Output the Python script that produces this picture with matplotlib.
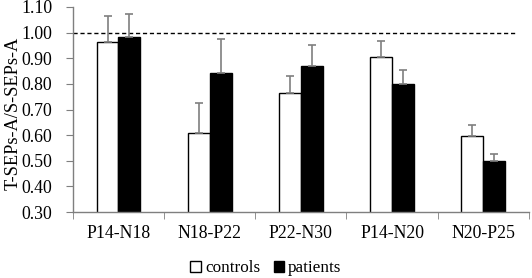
import matplotlib.pyplot as plt
import numpy as np

plt.rcParams['font.family'] = ['Liberation Serif', 'DejaVu Serif']

# values
components = ['P14-N18', 'N18-P22', 'P22-N30', 'P14-N20', 'N20-P25']
controls = [0.965, 0.61, 0.764, 0.904, 0.597]
controls_err = [0.10, 0.117, 0.065, 0.064, 0.043]
patients = [0.982, 0.842, 0.871, 0.80, 0.50]
patients_err = [0.091, 0.133, 0.079, 0.056, 0.027]

fig = plt.figure(figsize=(5.32, 2.78), dpi=100)
ax = fig.add_axes([0.137, 0.237, 0.857, 0.738])

x = np.arange(len(components))
w = 0.24
err_kw = dict(ecolor='#7f7f7f', elinewidth=1.2, capsize=3, capthick=1.2)
ax.bar(x - w / 2, controls, w, color='white', edgecolor='black', linewidth=1.0,
       yerr=[np.zeros(5), controls_err], error_kw=err_kw, label='controls', zorder=2)
ax.bar(x + w / 2, patients, w, color='black', edgecolor='black', linewidth=1.0,
       yerr=[np.zeros(5), patients_err], error_kw=err_kw, label='patients', zorder=2)

ax.axhline(1.0, xmin=0, xmax=0.97, color='black', linestyle=(0, (3, 2)), linewidth=1.0, zorder=1)

ax.set_xlim(-0.5, 4.5)
ax.set_ylim(0.30, 1.10)
ax.set_yticks(np.arange(0.30, 1.101, 0.10))
ax.set_yticklabels(['%.2f' % v for v in np.arange(0.30, 1.101, 0.10)], fontsize=12.8)
ax.set_xticks(x)
ax.set_xticklabels(components, fontsize=12.8)
ax.set_xticks(np.arange(-0.5, 4.6, 1.0), minor=True)
ax.tick_params(axis='x', which='major', length=0, pad=9)
ax.tick_params(axis='x', which='minor', length=5, color='#7f7f7f', direction='out')
ax.tick_params(axis='y', length=5, color='#7f7f7f', direction='out', pad=10)
ax.set_ylabel('T-SEPs-A/S-SEPs-A', fontsize=13.2)
ax.yaxis.set_label_coords(-0.112, 0.48)

for s in ['top', 'right']:
    ax.spines[s].set_visible(False)
for s in ['left', 'bottom']:
    ax.spines[s].set_color('#7f7f7f')
    ax.spines[s].set_linewidth(1.0)

fig.legend(loc='center', bbox_to_anchor=(0.5, 0.035), ncol=2, frameon=False,
           fontsize=12.3, handlelength=0.6, handleheight=0.6, handletextpad=0.25, columnspacing=0.8)

fig.savefig('out.png', dpi=100)
